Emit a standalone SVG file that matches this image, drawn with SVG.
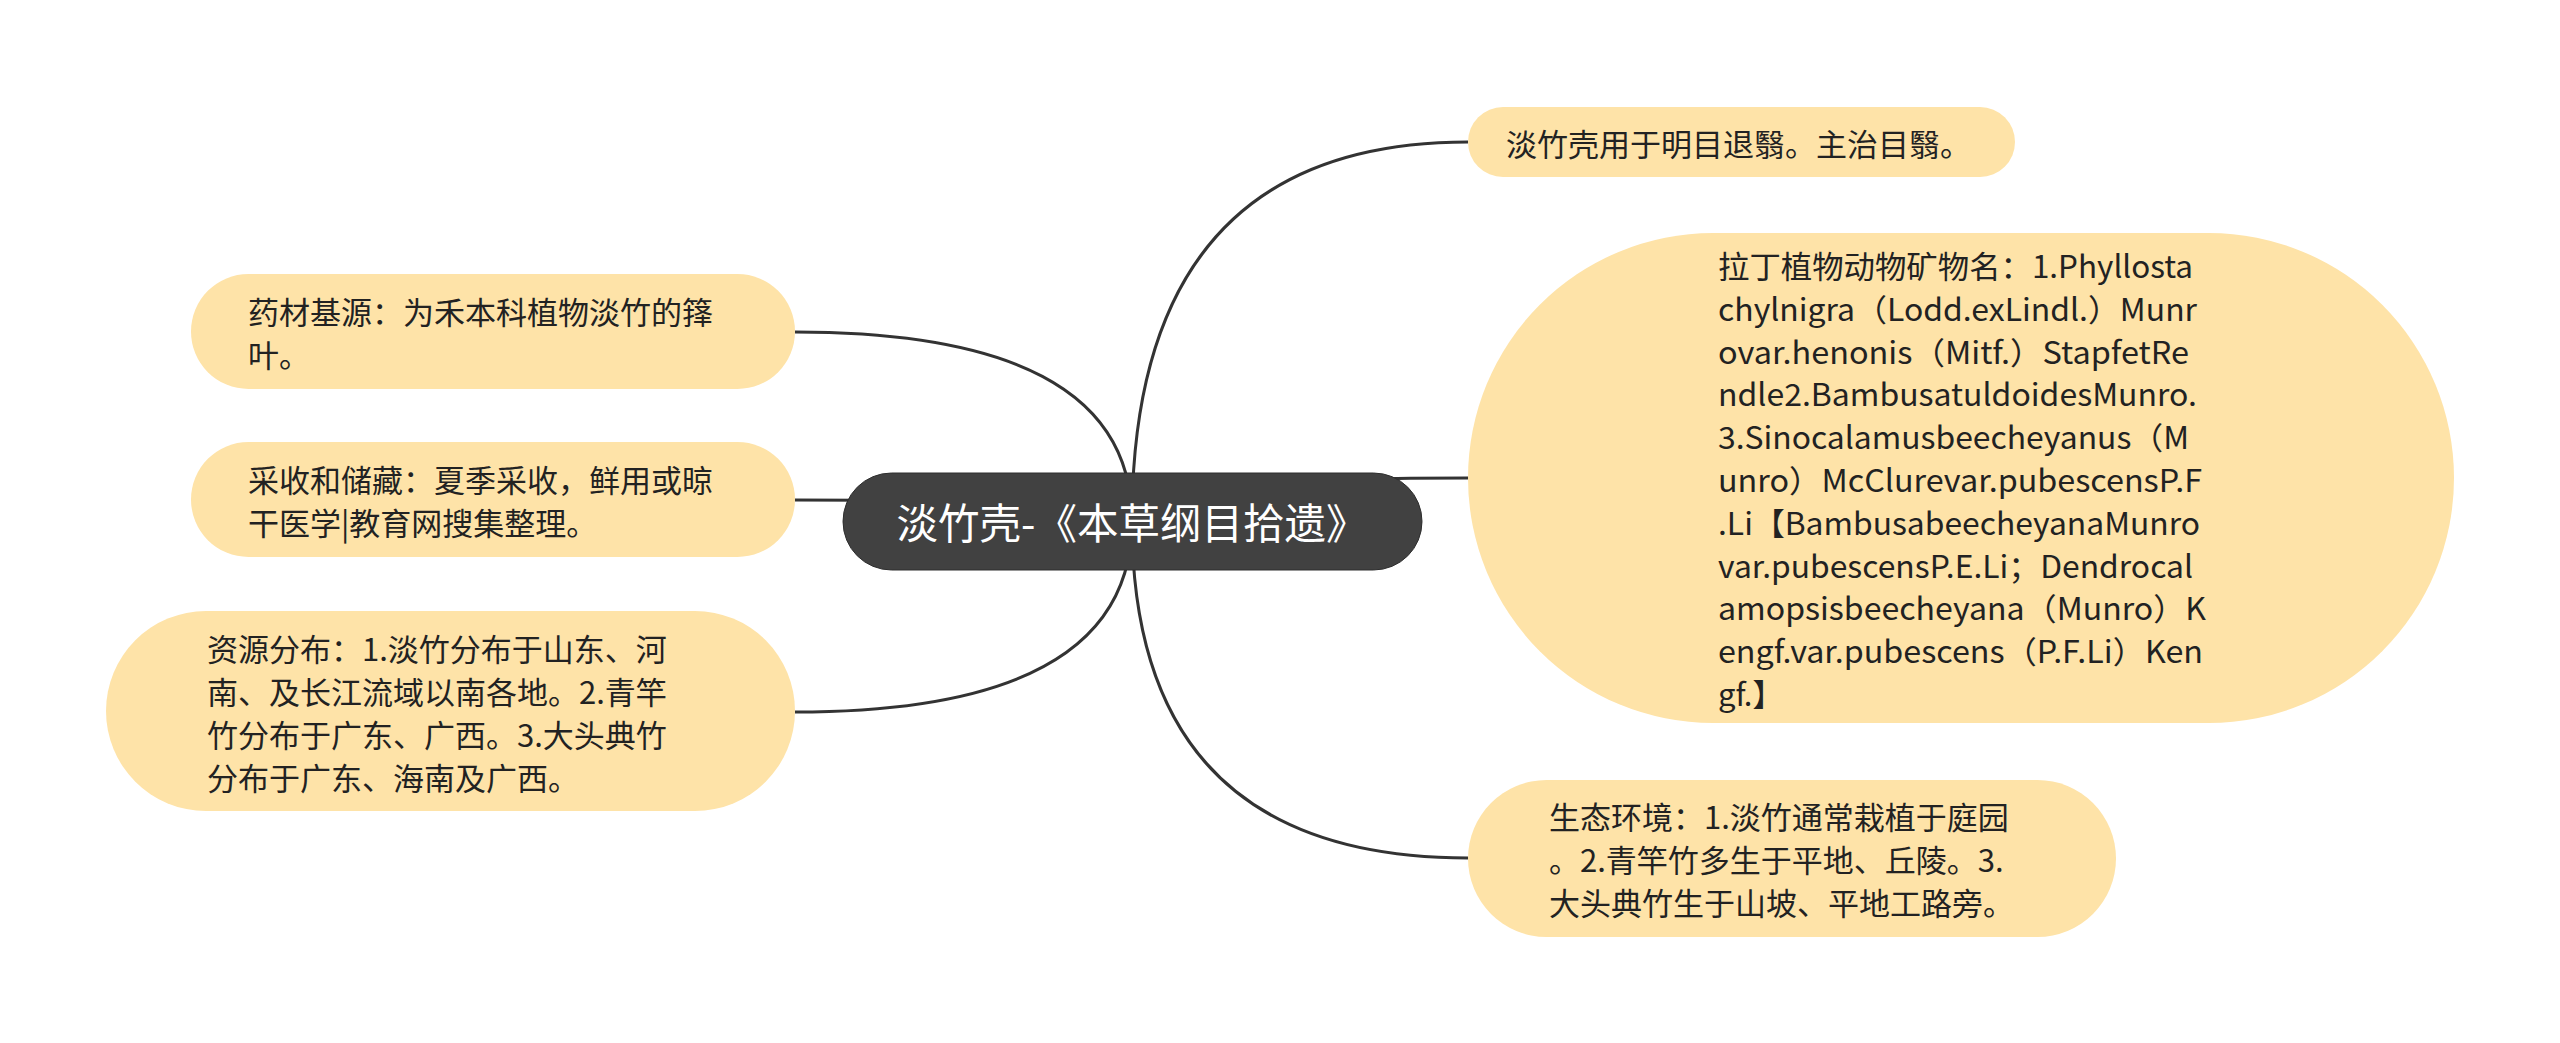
<svg xmlns="http://www.w3.org/2000/svg" width="2560" height="1043" viewBox="0 0 2560 1043">
<style>
.bg{fill:#ffffff}
.sub{fill:#FEE3A8}
.root{fill:#414141;stroke:#2e2e2e;stroke-width:1}
.link{fill:none;stroke:#333333;stroke-width:3}
.t{font-family:"Microsoft YaHei","Noto Sans CJK SC","Noto Sans",sans-serif;font-size:31px;fill:#222222;dominant-baseline:central}
.rt{font-family:"Microsoft YaHei","Noto Sans CJK SC","Noto Sans",sans-serif;font-size:41.5px;fill:#ffffff;dominant-baseline:central;text-anchor:middle}
</style>
<rect class="bg" x="0" y="0" width="2560" height="1043"/>
<g id="connectors">
<path class="link" d="M 795 332 Q 1132 332 1132 521"/>
<path class="link" d="M 795 500 Q 1132 500 1132 521"/>
<path class="link" d="M 795 712 Q 1132 712 1132 521"/>
<path class="link" d="M 1132 521 Q 1132 142 1468 142"/>
<path class="link" d="M 1132 521 Q 1132 478 1468 478"/>
<path class="link" d="M 1132 521 Q 1132 858 1468 858"/>
</g>
<g id="root">
<rect class="root" x="843" y="473" width="579" height="97" rx="48.5" ry="48.5"/>
<text class="rt" x="1132" y="521">淡竹壳-《本草纲目拾遗》</text>
</g>
<g id="n-l1">
<rect class="sub" x="191" y="274" width="604" height="115" rx="57.5" ry="57.5"/>
<text class="t"><tspan x="248" y="309.5">药材基源：为禾本科植物淡竹的箨</tspan><tspan x="248" y="352.5">叶。</tspan></text>
</g>
<g id="n-l2">
<rect class="sub" x="191" y="442" width="604" height="115" rx="57.5" ry="57.5"/>
<text class="t"><tspan x="248" y="478">采收和储藏：夏季采收，鲜用或晾</tspan><tspan x="248" y="521">干医学|教育网搜集整理。</tspan></text>
</g>
<g id="n-l3">
<rect class="sub" x="106" y="611" width="689" height="200" rx="100" ry="100"/>
<text class="t"><tspan x="207" y="646.5">资源分布：1.淡竹分布于山东、河</tspan><tspan x="207" y="689.5">南、及长江流域以南各地。2.青竿</tspan><tspan x="207" y="732.5">竹分布于广东、广西。3.大头典竹</tspan><tspan x="207" y="775.5">分布于广东、海南及广西。</tspan></text>
</g>
<g id="n-r1">
<rect class="sub" x="1468" y="107" width="547" height="70" rx="35" ry="35"/>
<text class="t" x="1506" y="142">淡竹壳用于明目退翳。主治目翳。</text>
</g>
<g id="n-r2">
<rect class="sub" x="1468" y="233" width="986" height="490" rx="245" ry="245"/>
<text class="t">
<tspan x="1718" y="264" textLength="475" lengthAdjust="spacingAndGlyphs">拉丁植物动物矿物名：1.Phyllosta</tspan>
<tspan x="1718" y="306.8" textLength="479" lengthAdjust="spacingAndGlyphs">chylnigra（Lodd.exLindl.）Munr</tspan>
<tspan x="1718" y="349.6" textLength="471" lengthAdjust="spacingAndGlyphs">ovar.henonis（Mitf.）StapfetRe</tspan>
<tspan x="1718" y="392.4" textLength="479" lengthAdjust="spacingAndGlyphs">ndle2.BambusatuldoidesMunro.</tspan>
<tspan x="1718" y="435.2" textLength="471" lengthAdjust="spacingAndGlyphs">3.Sinocalamusbeecheyanus（M</tspan>
<tspan x="1718" y="478" textLength="484" lengthAdjust="spacingAndGlyphs">unro）McClurevar.pubescensP.F</tspan>
<tspan x="1718" y="520.8" textLength="482" lengthAdjust="spacingAndGlyphs">.Li【BambusabeecheyanaMunro</tspan>
<tspan x="1718" y="563.6" textLength="475" lengthAdjust="spacingAndGlyphs">var.pubescensP.E.Li；Dendrocal</tspan>
<tspan x="1718" y="606.4" textLength="488" lengthAdjust="spacingAndGlyphs">amopsisbeecheyana（Munro）K</tspan>
<tspan x="1718" y="649.2" textLength="485" lengthAdjust="spacingAndGlyphs">engf.var.pubescens（P.F.Li）Ken</tspan>
<tspan x="1718" y="692">gf.】</tspan>
</text>
</g>
<g id="n-r3">
<rect class="sub" x="1468" y="780" width="648" height="157" rx="78.5" ry="78.5"/>
<text class="t"><tspan x="1549" y="815">生态环境：1.淡竹通常栽植于庭园</tspan><tspan x="1549" y="858">。2.青竿竹多生于平地、丘陵。3.</tspan><tspan x="1549" y="901">大头典竹生于山坡、平地工路旁。</tspan></text>
</g>
</svg>
